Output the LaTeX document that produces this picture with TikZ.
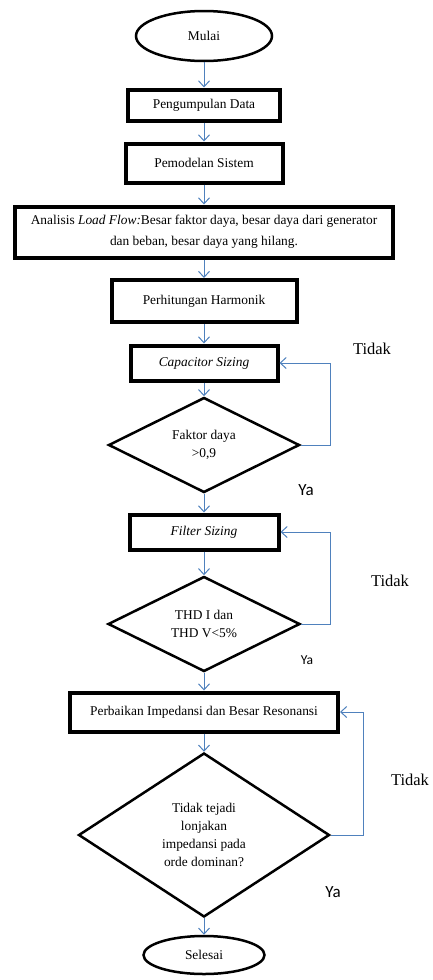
\documentclass[tikz,border=0pt]{standalone}
\usepackage{fontspec}
\setmainfont{Liberation Serif}
\newfontfamily\answerfont{Carlito}
\usetikzlibrary{shapes.geometric,arrows.meta,positioning}
\definecolor{arrowblue}{RGB}{79,129,189}

\begin{document}
\begin{tikzpicture}[node distance=69pt, font=\fontsize{13.4}{18}\selectfont]
\tikzstyle{startstop} = [ellipse, minimum width=136pt, minimum height=50pt, inner sep=0pt, text centered, draw=black, line width=2.5pt]

\tikzstyle{process} = [rectangle, minimum height=31pt, text centered, draw=black, line width=4pt, fill=white]

\tikzstyle{decision} = [diamond, shape aspect=2, inner sep=0pt, align=center, draw=black, line width=2.5pt]
\tikzstyle{arrow} = [draw=arrowblue, line width=1pt, ->, >={Straight Barb[length=6pt,width=11pt]}]
\tikzstyle{noanswer} = [font=\fontsize{16.5}{20}\selectfont]
\tikzstyle{answer} = [font=\answerfont\fontsize{17}{20}\selectfont]
\tikzstyle{smallanswer} = [font=\answerfont\fontsize{13.6}{16}\selectfont]

\useasboundingbox (0,0) rectangle (432pt,-980pt);

\node (start) [startstop] at (204pt,-36pt) {Mulai};
\node (pro1) [process, below of=start, minimum width=152pt] {Pengumpulan Data};
\node (pro2) [process, below of=pro1, yshift=11pt, minimum width=157pt, minimum height=39pt] {Pemodelan Sistem};
\node (pro3) [process, below of=pro2, minimum width=378pt, minimum height=51pt, align=center, font=\fontsize{13.4}{21}\selectfont] {Analisis \textit{Load Flow:}Besar faktor daya, besar daya dari generator\\dan beban, besar daya yang hilang.};
\node (pro4) [process, below of=pro3, minimum width=185pt, minimum height=42pt] {Perhitungan Harmonik};
\node (cap) [process, below of=pro4, yshift=7pt, minimum width=147pt, minimum height=35pt] {\textit{Capacitor Sizing}};
\node (dec1) [decision, below of=cap, yshift=-13pt, minimum width=191pt, minimum height=95pt] {Faktor daya\\>0,9};
\node (filt) [process, below of=dec1, yshift=-18pt, minimum width=149pt, minimum height=35pt] {\textit{Filter Sizing}};
\node (dec2) [decision, below of=filt, yshift=-23pt, minimum width=192pt, minimum height=95pt] {THD I dan\\THD V<5\%};
\node (pro5) [process, below of=dec2, yshift=-19pt, minimum width=268pt, minimum height=39pt] {Perbaikan Impedansi dan Besar Resonansi};
\node (dec3) [decision, below of=pro5, yshift=-54pt, shape aspect=1.5, minimum width=251pt, minimum height=164pt] {Tidak tejadi\\lonjakan\\impedansi pada\\orde dominan?};
\node (stop) [startstop, below of=dec3, yshift=-51pt, minimum width=121pt, minimum height=38pt] {Selesai};

%\node labels of the loops
\node (tidak1) [noanswer] at (372pt,-349pt) {Tidak};
\node (ya1) [answer] at (306pt,-490pt) {Ya};
\node (tidak2) [noanswer] at (390pt,-581pt) {Tidak};
\node (ya2) [smallanswer] at (307pt,-660pt) {Ya};
\node (tidak3) [noanswer] at (410pt,-780pt) {Tidak};
\node (ya3) [answer] at (333pt,-892pt) {Ya};

\draw [arrow] (start) -- (pro1);
\draw [arrow] (pro1) -- (pro2);
\draw [arrow] (pro2) -- (pro3);
\draw [arrow] (pro3) -- (pro4);
\draw [arrow] (pro4) -- (cap);
\draw [arrow] (cap) -- (dec1);
\draw [arrow] (dec1) -- (filt);
\draw [arrow] (filt) -- (dec2);
\draw [arrow] (dec2) -- (pro5);
\draw [arrow] (pro5) -- (dec3);
\draw [arrow] (dec3) -- (stop);
\draw [arrow] (dec1.east) -- ++(30pt,0) |- (cap.east);
\draw [arrow] (dec2.east) -- ++(29pt,0) |- (filt.east);
\draw [arrow] (dec3.east) -- ++(33pt,0) |- (pro5.east);

\end{tikzpicture}
\end{document}
